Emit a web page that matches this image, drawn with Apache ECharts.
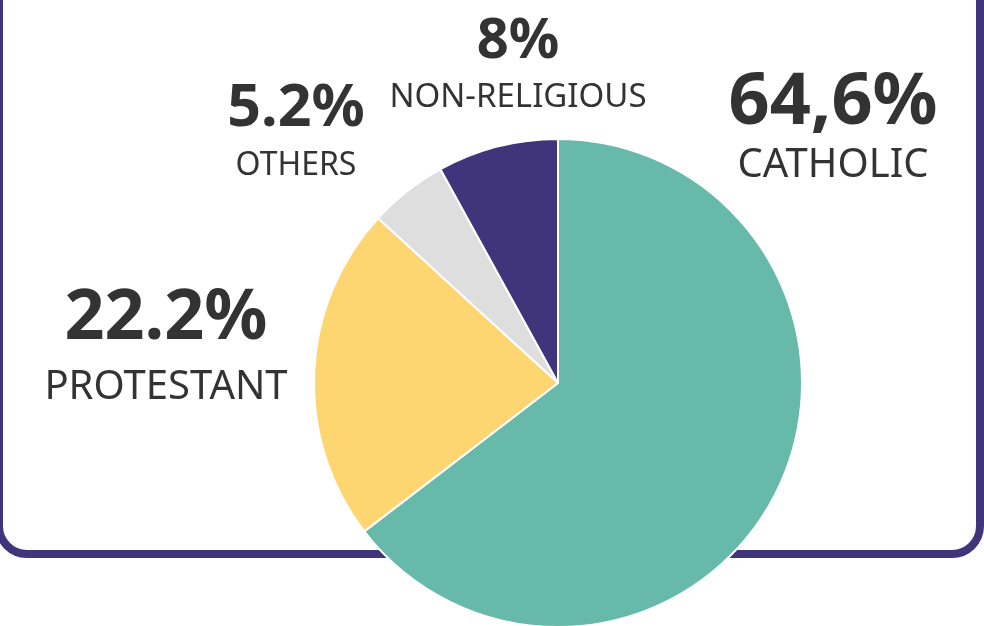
<!DOCTYPE html>
<html>
<head>
<meta charset="utf-8">
<script src="https://cdn.jsdelivr.net/npm/echarts@6/dist/echarts.min.js"></script>
<style>
  html, body { margin: 0; padding: 0; background: #fff; }
  #box { width: 984px; height: 626px; }
</style>
</head>
<body>
<div id="box"></div>
<script>
// data
var categories = ['CATHOLIC', 'PROTESTANT', 'OTHERS', 'NON-RELIGIOUS'];
var values = [64.6, 22.2, 5.2, 8];
var pctLabels = ['64,6%', '22.2%', '5.2%', '8%'];
var colors = ['#67baa9', '#fdd571', '#dedede', '#40357a'];

// label placement: centre x, baseline of the percentage, baseline of the name
var labelX = [833, 166, 296, 518];
var pctBase = [127, 342, 128, 60];
var nameBase = [178, 400, 175, 107];
var pctSize = [72, 70, 59, 56];
var nameSize = [40, 40, 32, 33];
var CAP = 0.714;

var myChart = echarts.init(document.getElementById('box'));

var seriesData = categories.map(function (c, i) {
    var lhP = pctSize[i] * 0.9;
    var gap = nameBase[i] - pctBase[i];
    var lhN = 2 * (gap + pctSize[i] * CAP / 2 - nameSize[i] * CAP / 2) - lhP;
    return {
        value: values[i],
        name: c,
        itemStyle: {color: colors[i]},
        label: {
            formatter: '{p|' + pctLabels[i] + '}\n{n|' + c + '}',
            rich: {
                p: {fontSize: pctSize[i], fontWeight: 'bold', fontFamily: 'Noto Sans', color: '#333333', lineHeight: lhP},
                n: {fontSize: nameSize[i], fontFamily: 'Noto Sans', color: '#333333', lineHeight: lhN}
            }
        }
    };
});

var option = {
    animation: false,
    graphic: [{
        type: 'rect',
        z: 0,
        shape: {x: -1, y: -60, width: 981, height: 614, r: 28},
        style: {fill: '#ffffff', stroke: '#40357a', lineWidth: 8}
    }],
    series: [{
        type: 'pie',
        z: 5,
        center: [558, 383],
        radius: 244,
        startAngle: 90,
        clockwise: true,
        itemStyle: {borderColor: '#ffffff', borderWidth: 2},
        label: {show: true, position: 'outside', align: 'center', overflow: 'none', width: 400},
        labelLine: {show: false},
        labelLayout: function (params) {
            var i = params.dataIndex;
            var top = pctBase[i] - pctSize[i] * 0.45 - pctSize[i] * CAP / 2 + 2;
            return {x: labelX[i], y: top, align: 'center', verticalAlign: 'top'};
        },
        data: seriesData
    }]
};
myChart.setOption(option);
</script>
</body>
</html>
